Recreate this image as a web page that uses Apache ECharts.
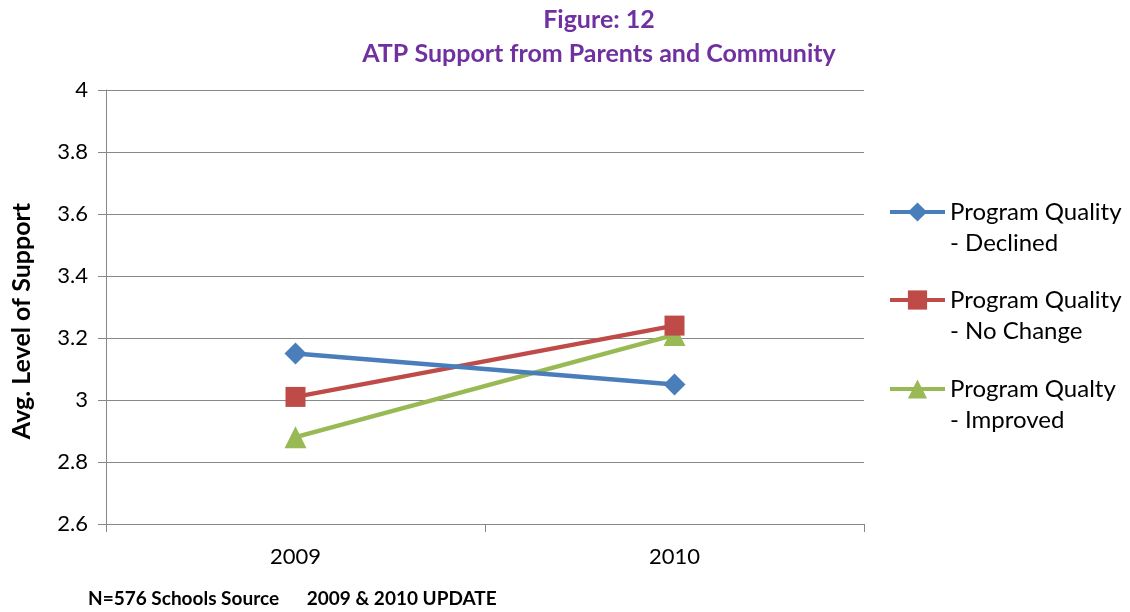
<!DOCTYPE html>
<html>
<head>
<meta charset="utf-8">
<script src="https://cdn.jsdelivr.net/npm/echarts@6/dist/echarts.min.js"></script>
<style>
  html, body { margin: 0; padding: 0; background: #fff; }
  #chart { width: 1130px; height: 612px; }
</style>
</head>
<body>
<div id="chart"></div>
<script>
// Survey years on the category axis
const years = ['2009', '2010'];

// Average level of support, grouped by change in program quality
const declined = [3.15, 3.05];
const noChange = [3.01, 3.24];
const improved = [2.88, 3.21];

// Series names as shown in the legend
const seriesNames = [
  'Program Quality\n- Declined',
  'Program Quality\n- No Change',
  'Program Qualty\n- Improved'
];

// Value axis range and step
const yMin = 2.6;
const yMax = 4;
const yStep = 0.2;

const FONT = 'Lato, "Open Sans", sans-serif';
const GRID_COLOR = '#888888';
const colors = ['#4A7EBB', '#BE4B48', '#98B954'];
const symbols = ['diamond', 'rect', 'triangle'];
const symbolSizes = [22, 20, 22];

const chart = echarts.init(document.getElementById('chart'), null, { renderer: 'canvas' });

const seriesData = [declined, noChange, improved];
const LEGEND_LINE = 31;
// each legend label gets a blank leading line so the marker sits beside its first line
const legendTops = [212, 300, 389].map(y => y - LEGEND_LINE * 1.5);

const option = {
  animation: false,
  backgroundColor: '#ffffff',
  title: {
    text: 'Figure: 12\nATP Support from Parents and Community',
    left: 594,
    textAlign: 'center',
    top: -2,
    textStyle: {
      fontFamily: FONT,
      fontWeight: 'bold',
      fontSize: 25,
      color: '#7030A0',
      lineHeight: 34
    }
  },
  legend: seriesNames.map((name, i) => ({
    data: [name],
    left: 888,
    top: legendTops[i],
    orient: 'vertical',
    itemWidth: 55,
    itemHeight: 24,
    itemGap: 0,
    padding: 0,
    selectedMode: false,
    lineStyle: { width: 4 },
    formatter: n => '\n' + n,
    textStyle: {
      fontFamily: FONT,
      fontSize: 24,
      color: '#000',
      lineHeight: LEGEND_LINE
    }
  })),
  grid: {
    left: 106,
    right: 266,
    top: 90,
    bottom: 88,
    containLabel: false,
    outerBoundsMode: 'none'
  },
  xAxis: {
    type: 'category',
    data: years,
    boundaryGap: true,
    axisLine: { lineStyle: { color: GRID_COLOR, width: 1 } },
    axisTick: { show: true, length: 8, lineStyle: { color: GRID_COLOR } },
    axisLabel: {
      fontFamily: FONT,
      fontSize: 22,
      color: '#000',
      margin: 22
    }
  },
  yAxis: {
    type: 'value',
    min: yMin,
    max: yMax,
    interval: yStep,
    name: 'Avg. Level of Support',
    nameLocation: 'middle',
    nameGap: 72,
    nameTextStyle: {
      fontFamily: FONT,
      fontWeight: 'bold',
      fontSize: 25,
      color: '#000',
      padding: [0, 28, 0, 0]
    },
    axisLine: { show: true, lineStyle: { color: GRID_COLOR, width: 1 } },
    axisTick: { show: true, length: 8, lineStyle: { color: GRID_COLOR } },
    splitLine: { show: true, lineStyle: { color: GRID_COLOR, width: 1 } },
    axisLabel: {
      fontFamily: FONT,
      fontSize: 22,
      color: '#000',
      margin: 18,
      formatter: v => String(Math.round(v * 10) / 10)
    }
  },
  series: seriesNames.map((name, i) => ({
    name: name,
    type: 'line',
    data: seriesData[i],
    symbol: symbols[i],
    symbolSize: symbolSizes[i],
    lineStyle: { color: colors[i], width: 4.5 },
    itemStyle: { color: colors[i] },
    z: 3 - i
  })),
  graphic: [
    {
      type: 'text',
      left: 88,
      top: 589,
      style: {
        text: 'N=576 Schools Source      2009 & 2010 UPDATE',
        fontFamily: FONT,
        fontWeight: 'bold',
        fontSize: 19,
        fill: '#000'
      }
    }
  ]
};

chart.setOption(option);
</script>
</body>
</html>
